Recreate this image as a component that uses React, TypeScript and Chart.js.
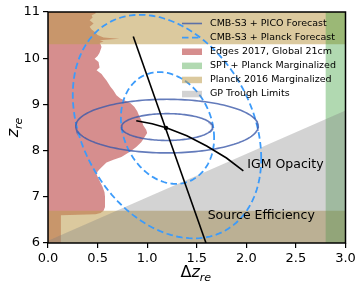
import React, { useEffect, useRef } from 'react';
import { Chart, registerables } from 'chart.js';

Chart.register(...registerables);

// ---------- data ----------
const X_TICKS = [0, 0.5, 1.0, 1.5, 2.0, 2.5, 3.0];
const Y_TICKS = [6, 7, 8, 9, 10, 11];

// Edges 2017 (Global 21cm) marginalized profile: width in Δz_re at each z_re
const edgesX = [0, 0.13, 0.13, 0.48, 0.53, 0.56, 0.575, 0.575, 0.57, 0.55, 0.52, 0.49, 0.5, 0.53, 0.59, 0.66, 0.74, 0.83, 0.89, 0.94, 0.97, 1.0, 0.99, 0.96, 0.95, 0.92, 0.9, 0.87, 0.83, 0.78, 0.73, 0.69, 0.66, 0.63, 0.59, 0.56, 0.54, 0.49, 0.52, 0.51, 0.47, 0.5, 0.52, 0.54, 0.53, 0.52, 0.56, 0.52, 0.72, 0.56, 0.5, 0.47, 0.44, 0.42, 0.46, 0.42, 0.45, 0.44, 0.48, 0.48, 0];
const edgesY = [6, 6, 6.6, 6.62, 6.65, 6.7, 6.78, 7.0, 7.1, 7.22, 7.35, 7.48, 7.55, 7.62, 7.74, 7.8, 7.86, 7.98, 8.08, 8.18, 8.28, 8.38, 8.45, 8.55, 8.62, 8.75, 8.85, 8.95, 9.03, 9.08, 9.13, 9.2, 9.3, 9.38, 9.52, 9.6, 9.66, 9.74, 9.8, 9.92, 9.99, 10.05, 10.12, 10.24, 10.3, 10.33, 10.36, 10.39, 10.42, 10.45, 10.5, 10.57, 10.62, 10.68, 10.75, 10.82, 10.88, 10.93, 10.97, 11, 11];

// Planck 2016 marginalized bands (z_re ranges)
const planckTopBand = [10.3, 11.0];
const planckBottomBand = [6.0, 6.7];
// SPT + Planck marginalized (Δz_re range)
const sptBand = [2.8, 3.0];
// GP trough limits polygon
const gpX = [0, 3.0, 3.0, 0];
const gpY = [6.05, 8.87, 6.0, 6.0];

// forecast ellipses: [center Δz, center z, σΔz, σz, correlation]
const picoEllipses = [
  [1.2, 8.51, 0.46, 0.29, 0],
  [1.2, 8.53, 0.92, 0.58, 0],
];
const planckEllipses = [
  [1.205, 8.49, 0.47, 1.21, -0.18],
  [1.2, 8.52, 0.95, 2.42, -0.285],
];

// degeneracy lines
const sourceLineX = [0.86, 1.593];
const sourceLineY = [10.47, 6.0];
const igmLineX = [0.89, 1.05, 1.2, 1.4, 1.6, 1.8, 1.97];
const igmLineY = [8.645, 8.58, 8.49, 8.32, 8.1, 7.84, 7.56];
const fiducialX = [1.19];
const fiducialY = [8.49];

const legendLabels = [
  'CMB-S3 + PICO Forecast',
  'CMB-S3 + Planck Forecast',
  'Edges 2017, Global 21cm',
  'SPT + Planck Marginalized',
  'Planck 2016 Marginalized',
  'GP Trough Limits',
];
const annotationTexts = ['IGM Opacity', 'Source Efficiency'];
const annotationAt = [[2.01, 7.69], [1.61, 6.59]];

// ---------- styles ----------
const RED = 'rgba(180,50,50,0.55)';
const TAN = 'rgba(190,157,79,0.55)';
const GREEN = 'rgba(60,160,60,0.4)';
const GRAY = 'rgba(128,128,128,0.35)';
const SOLID_BLUE = 'rgba(60,90,170,0.8)';
const DASH_BLUE = 'rgb(60,155,250)';
const FONT = '"DejaVu Sans", sans-serif';

const pts = (xs: number[], ys: number[]) => xs.map((x, i) => ({ x, y: ys[i] }));
const rect = (x0: number, x1: number, y0: number, y1: number) => [
  { x: x0, y: y0 }, { x: x1, y: y0 }, { x: x1, y: y1 }, { x: x0, y: y1 },
];
function ellipsePoints(p: number[]) {
  const [cx, cy, sx, sy, rho] = p;
  const k = Math.sqrt(1 - rho * rho);
  const out: { x: number; y: number }[] = [];
  const n = 160;
  for (let i = 0; i <= n; i++) {
    const t = (i / n) * 2 * Math.PI;
    out.push({ x: cx + sx * Math.cos(t), y: cy + sy * (rho * Math.cos(t) + k * Math.sin(t)) });
  }
  return out;
}

const area = (data: any[], color: string, order: number) => ({
  data, showLine: true, fill: 'shape', backgroundColor: color,
  borderColor: 'transparent', borderWidth: 0, pointRadius: 0, order,
});
const curve = (data: any[], color: string, width: number, dash: number[], order: number) => ({
  data, showLine: true, fill: false, borderColor: color, borderWidth: width,
  borderDash: dash, pointRadius: 0, order, tension: 0,
});

const decorPlugin = {
  id: 'decor',
  afterDraw(chart: any) {
    const ctx = chart.ctx as CanvasRenderingContext2D;
    const { left, right, top, bottom } = chart.chartArea;
    const xs = chart.scales.x;
    const ys = chart.scales.y;
    ctx.save();
    // frame
    ctx.strokeStyle = '#000';
    ctx.lineWidth = 1.5;
    ctx.strokeRect(left, top, right - left, bottom - top);

    // annotations
    ctx.fillStyle = '#000';
    ctx.font = `12.5px ${FONT}`;
    ctx.textBaseline = 'middle';
    ctx.textAlign = 'left';
    annotationTexts.forEach((t, i) => {
      ctx.fillText(t, xs.getPixelForValue(annotationAt[i][0]), ys.getPixelForValue(annotationAt[i][1]));
    });

    // legend
    const lx0 = left + 134;
    const lx1 = lx0 + 20;
    const tx = lx0 + 28;
    const ly0 = top + 11.5;
    const dy = 14.1;
    ctx.font = `9.5px ${FONT}`;
    legendLabels.forEach((label, i) => {
      const y = ly0 + i * dy;
      if (i === 0 || i === 1) {
        ctx.beginPath();
        ctx.strokeStyle = i === 0 ? SOLID_BLUE : DASH_BLUE;
        ctx.lineWidth = i === 0 ? 1.6 : 1.8;
        ctx.setLineDash(i === 0 ? [] : [6.5, 3.5]);
        ctx.moveTo(lx0, y);
        ctx.lineTo(lx1, y);
        ctx.stroke();
        ctx.setLineDash([]);
      } else {
        ctx.fillStyle = [RED, GREEN, TAN, GRAY][i - 2];
        ctx.fillRect(lx0, y - 3.2, 20, 6.5);
      }
      ctx.fillStyle = '#000';
      ctx.fillText(label, tx, y);
    });

    // x title: Δz_re
    ctx.textBaseline = 'alphabetic';
    const xBase = 277.3;
    const f1 = `16px ${FONT}`;
    const f2 = `italic 16px ${FONT}`;
    const f3 = `italic 11px ${FONT}`;
    ctx.font = f1; const wD = ctx.measureText('Δ').width;
    ctx.font = f2; const wZ = ctx.measureText('z').width;
    ctx.font = f3; const wR = ctx.measureText('re').width;
    let sx = (left + right) / 2 - 1 - (wD + wZ + wR) / 2;
    ctx.font = f1; ctx.fillText('Δ', sx, xBase); sx += wD;
    ctx.font = f2; ctx.fillText('z', sx, xBase); sx += wZ;
    ctx.font = f3; ctx.fillText('re', sx, xBase + 3.6);

    // y title: z_re rotated
    ctx.translate(18.3, (top + bottom) / 2);
    ctx.rotate(-Math.PI / 2);
    const w2 = wZ + wR;
    let s2 = -w2 / 2;
    ctx.font = f2; ctx.fillText('z', s2, 0); s2 += wZ;
    ctx.font = f3; ctx.fillText('re', s2, 3.6);
    ctx.restore();
  },
};

export default function App() {
  const ref = useRef<HTMLCanvasElement>(null);
  useEffect(() => {
    document.body.style.margin = '0';
    const datasets: any[] = [
      area(pts(edgesX, edgesY), RED, 10),
      area(rect(0, 3, planckTopBand[0], planckTopBand[1]), TAN, 9),
      area(rect(0, 3, planckBottomBand[0], planckBottomBand[1]), TAN, 9),
      area(rect(sptBand[0], sptBand[1], 6, 11), GREEN, 8),
      area(pts(gpX, gpY), GRAY, 7),
      ...picoEllipses.map((p) => curve(ellipsePoints(p), SOLID_BLUE, 1.6, [], 5)),
      ...planckEllipses.map((p) => curve(ellipsePoints(p), DASH_BLUE, 1.8, [6.5, 3.5], 5)),
      curve(pts(sourceLineX, sourceLineY), '#000', 1.6, [], 3),
      curve(pts(igmLineX, igmLineY), '#000', 1.6, [], 3),
      {
        data: pts(fiducialX, fiducialY), showLine: false, pointRadius: 2.2,
        pointBackgroundColor: '#000', pointBorderWidth: 0, order: 1,
      },
    ];
    const tickFont = { family: FONT, size: 13 };
    const chart = new Chart(ref.current!, {
      type: 'scatter',
      data: { datasets },
      options: {
        animation: false,
        responsive: false,
        devicePixelRatio: 1,
        layout: { padding: { top: 12, right: 14.5, left: 0, bottom: 0 } },
        plugins: { legend: { display: false }, tooltip: { enabled: false } },
        scales: {
          x: {
            type: 'linear', min: 0, max: 3,
            afterBuildTicks: (s: any) => { s.ticks = X_TICKS.map((v) => ({ value: v })); },
            afterFit: (s: any) => { s.height = 45; },
            ticks: { color: '#000', font: tickFont, padding: 3, callback: (v: any) => Number(v).toFixed(1) },
            grid: { drawOnChartArea: false, drawTicks: true, tickLength: 5, color: '#000', lineWidth: 1.2 },
            border: { display: false },
          },
          y: {
            type: 'linear', min: 6, max: 11,
            afterBuildTicks: (s: any) => { s.ticks = Y_TICKS.map((v) => ({ value: v })); },
            afterFit: (s: any) => { s.width = 48; },
            ticks: { color: '#000', font: tickFont, padding: 3, callback: (v: any) => String(v) },
            grid: { drawOnChartArea: false, drawTicks: true, tickLength: 5, color: '#000', lineWidth: 1.2 },
            border: { display: false },
          },
        },
      } as any,
      plugins: [decorPlugin],
    });
    return () => chart.destroy();
  }, []);
  return (
    <div style={{ width: 360, height: 288 }}>
      <canvas ref={ref} width={360} height={288} style={{ display: 'block', width: 360, height: 288 }} />
    </div>
  );
}
